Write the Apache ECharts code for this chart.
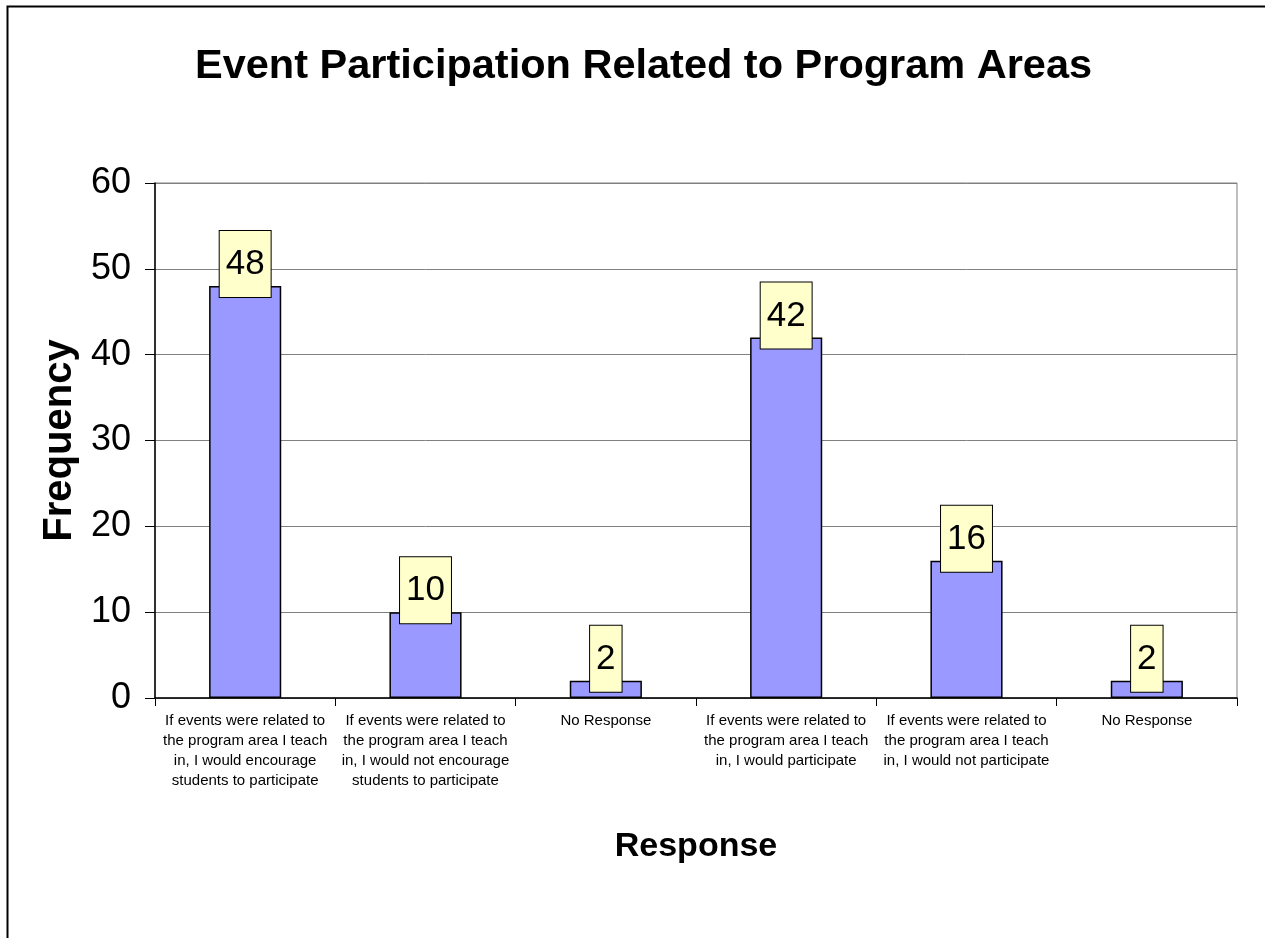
<!DOCTYPE html>
<html>
<head>
<meta charset="utf-8">
<script src="https://cdn.jsdelivr.net/npm/echarts@6/dist/echarts.min.js"></script>
<style>html,body{margin:0;padding:0;background:#fff}#c{width:1265px;height:938px}</style>
</head>
<body>
<div id="c"></div>
<script>
var categories = [
  "If events were related to\nthe program area I teach\nin, I would encourage\nstudents to participate",
  "If events were related to\nthe program area I teach\nin, I would not encourage\nstudents to participate",
  "No Response",
  "If events were related to\nthe program area I teach\nin, I would participate",
  "If events were related to\nthe program area I teach\nin, I would not participate",
  "No Response"
];
var frequency = [48, 10, 2, 42, 16, 2];
var yTicks = { min: 0, max: 60, interval: 10 };

var chart = echarts.init(document.getElementById('c'), null, { renderer: 'canvas' });
chart.setOption({
  animation: false,
  backgroundColor: '#ffffff',
  textStyle: { fontFamily: 'Liberation Sans, Arial, sans-serif' },
  title: {
    text: 'Event Participation Related to Program Areas',
    left: 190, top: 41,
    textStyle: { fontSize: 41.5, fontWeight: 'bold', color: '#000', fontFamily: 'Liberation Sans, Arial, sans-serif' }
  },
  graphic: [{
    type: 'rect', left: 5, top: 4, z: 100, silent: true,
    shape: { width: 1300, height: 1000 },
    style: { fill: 'none', stroke: '#000', lineWidth: 2 }
  }],
  grid: {
    left: 155, right: 28, top: 183, bottom: 240,
    show: true, borderColor: '#808080', borderWidth: 1, backgroundColor: '#fff'
  },
  xAxis: {
    type: 'category',
    data: categories,
    name: 'Response',
    nameLocation: 'middle',
    nameGap: 132,
    nameTextStyle: { fontSize: 34, fontWeight: 'bold', color: '#000' },
    axisLine: { lineStyle: { color: '#000', width: 1.5 } },
    axisTick: { show: true, length: 8, lineStyle: { color: '#000' } },
    axisLabel: { interval: 0, fontSize: 15, lineHeight: 20, color: '#000', margin: 13 }
  },
  yAxis: {
    type: 'value',
    min: yTicks.min, max: yTicks.max, interval: yTicks.interval,
    name: 'Frequency',
    nameLocation: 'middle',
    nameGap: 72,
    nameTextStyle: { fontSize: 40, fontWeight: 'bold', color: '#000' },
    axisLine: { show: true, lineStyle: { color: '#000', width: 1.5 } },
    axisTick: { show: true, length: 10, lineStyle: { color: '#000' } },
    axisLabel: { fontSize: 36, color: '#000', margin: 24 },
    splitLine: { lineStyle: { color: '#808080', width: 1 } }
  },
  series: [{
    type: 'bar',
    data: frequency,
    barWidth: '40%',
    itemStyle: { color: '#9999FF', borderColor: '#000', borderWidth: 1.5 },
    label: {
      show: true, position: 'top', distance: 0, offset: [0, 11],
      fontSize: 35, color: '#000',
      backgroundColor: '#FFFFCC', borderColor: '#000', borderWidth: 1,
      padding: [16, 6, 15, 6]
    }
  }]
});
</script>
</body>
</html>
